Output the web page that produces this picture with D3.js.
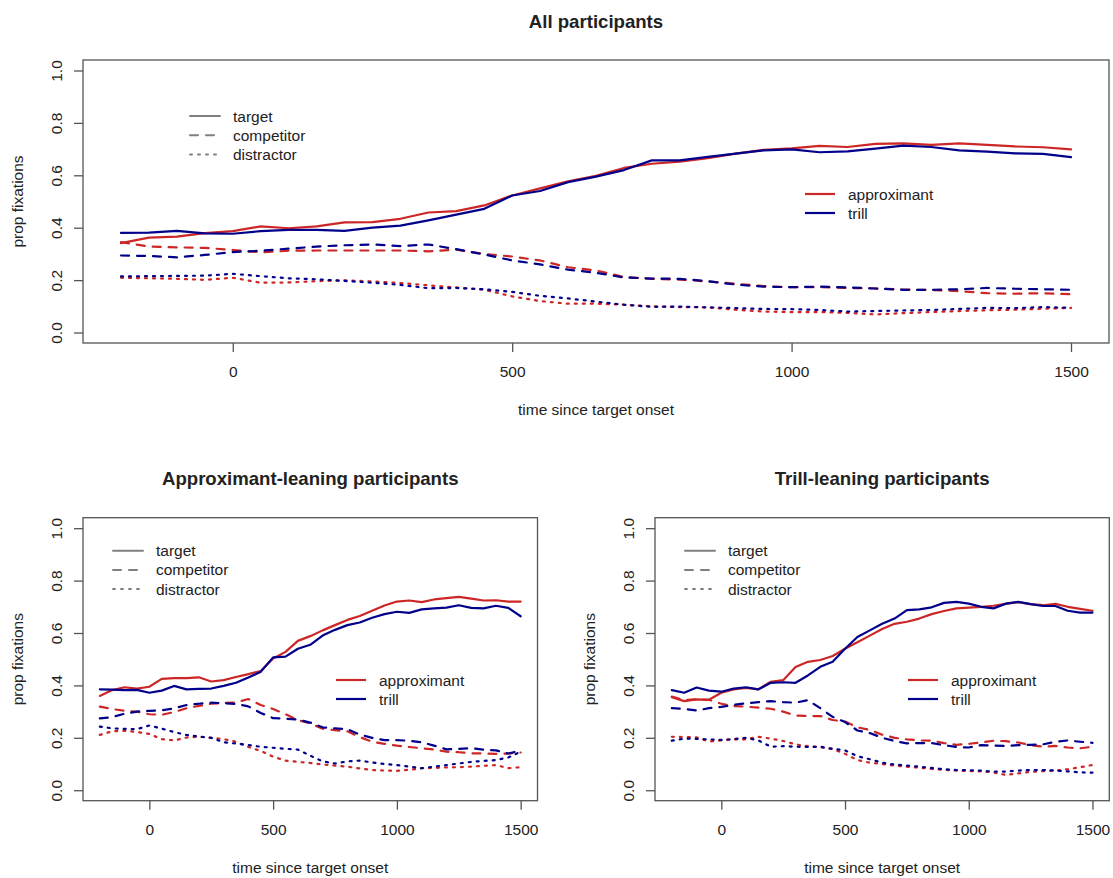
<!DOCTYPE html>
<html>
<head>
<meta charset="utf-8">
<script src="https://d3js.org/d3.v7.min.js"></script>
<style>
  body { margin: 0; background: #fff; }
  text { font-family: "Liberation Sans", Arial, sans-serif; fill: #222; }
</style>
</head>
<body>
<div id="chart"></div>
<script>
// time bins (ms since target onset)
var times = [-200, -150, -100, -50, 0, 50, 100, 150, 200, 250, 300, 350, 400, 450, 500, 550, 600, 650,
  700, 750, 800, 850, 900, 950, 1000, 1050, 1100, 1150, 1200, 1250, 1300, 1350, 1400, 1450, 1500];

var xTicks = [0, 500, 1000, 1500];
var yTicks = [0, 0.2, 0.4, 0.6, 0.8, 1.0];

var roles = ["target", "competitor", "distractor"];
var groups = ["approximant", "trill"];

var titles = ["All participants", "Approximant-leaning participants", "Trill-leaning participants"];

// All participants
var allApproxTarget = [.341,.362,.366,.379,.387,.405,.398,.405,.420,.421,.434,.458,.463,.485,.523,.550,.577,.598,.628,.644,.652,.665,.683,.697,.703,.712,.708,.720,.722,.716,.722,.716,.710,.707,.699];
var allTrillTarget  = [.380,.381,.388,.378,.377,.387,.392,.392,.388,.400,.408,.428,.450,.472,.523,.540,.574,.595,.620,.657,.657,.670,.683,.695,.699,.688,.691,.702,.713,.708,.695,.690,.684,.682,.669];
var allApproxComp   = [.345,.328,.325,.323,.315,.306,.312,.313,.313,.313,.313,.310,.316,.300,.290,.275,.249,.237,.212,.205,.202,.195,.186,.177,.173,.173,.170,.168,.164,.162,.158,.150,.148,.150,.146];
var allTrillComp    = [.294,.292,.287,.296,.307,.312,.320,.328,.333,.336,.330,.336,.318,.298,.275,.260,.240,.228,.210,.206,.205,.196,.183,.175,.173,.175,.172,.168,.163,.163,.165,.170,.167,.165,.163];
var allApproxDist   = [.209,.207,.205,.201,.209,.190,.191,.196,.199,.195,.189,.180,.172,.163,.138,.120,.110,.110,.106,.100,.097,.096,.087,.080,.078,.078,.075,.069,.074,.078,.082,.085,.087,.091,.094];
var allTrillDist    = [.214,.215,.216,.217,.224,.215,.207,.203,.197,.190,.182,.169,.170,.165,.155,.140,.130,.118,.106,.098,.099,.096,.093,.090,.089,.086,.080,.082,.084,.086,.090,.094,.093,.097,.094];

// Approximant-leaning participants
var apxApproxTarget = [.360,.382,.393,.388,.395,.425,.428,.428,.431,.415,.420,.432,.443,.455,.503,.528,.570,.588,.610,.630,.650,.665,.685,.705,.720,.724,.718,.728,.733,.738,.731,.724,.725,.720,.720];
var apxTrillTarget  = [.385,.384,.382,.383,.372,.380,.398,.385,.387,.388,.398,.410,.430,.452,.507,.510,.540,.555,.590,.612,.630,.640,.658,.672,.681,.677,.690,.694,.697,.706,.696,.694,.704,.696,.664];
var apxApproxComp   = [.319,.310,.303,.300,.290,.288,.298,.313,.322,.330,.333,.335,.348,.325,.310,.290,.268,.255,.235,.229,.225,.203,.185,.177,.170,.165,.160,.155,.147,.145,.141,.140,.139,.140,.144];
var apxTrillComp    = [.274,.279,.292,.300,.303,.305,.312,.325,.330,.334,.332,.329,.320,.295,.275,.273,.270,.258,.240,.236,.233,.212,.200,.191,.191,.189,.183,.170,.156,.158,.160,.155,.152,.140,.152];
var apxApproxDist   = [.211,.225,.227,.222,.215,.195,.190,.201,.204,.200,.195,.185,.165,.150,.128,.113,.108,.104,.098,.094,.090,.083,.077,.075,.074,.078,.084,.085,.087,.088,.090,.093,.096,.084,.088];
var apxTrillDist    = [.243,.236,.234,.233,.247,.235,.222,.211,.205,.200,.183,.178,.172,.166,.162,.158,.155,.132,.110,.102,.110,.113,.106,.100,.096,.090,.084,.090,.096,.102,.108,.112,.115,.125,.147];

// Trill-leaning participants
var trlApproxTarget = [.355,.340,.347,.345,.372,.385,.390,.385,.414,.420,.470,.490,.497,.512,.540,.565,.590,.615,.635,.643,.655,.672,.684,.694,.697,.700,.704,.711,.718,.710,.706,.711,.700,.692,.685];
var trlTrillTarget  = [.382,.372,.392,.380,.376,.388,.393,.385,.410,.412,.410,.438,.471,.490,.540,.585,.610,.635,.655,.687,.690,.698,.715,.719,.712,.700,.694,.712,.719,.710,.703,.703,.685,.678,.678];
var trlApproxComp   = [.357,.344,.347,.345,.330,.321,.319,.315,.311,.300,.285,.283,.283,.268,.262,.240,.230,.212,.200,.194,.190,.189,.180,.173,.177,.182,.189,.187,.182,.172,.166,.169,.163,.160,.166];
var trlTrillComp    = [.313,.310,.304,.313,.318,.326,.332,.336,.340,.336,.334,.344,.313,.280,.260,.228,.218,.200,.188,.179,.180,.180,.172,.165,.163,.172,.170,.169,.172,.173,.175,.185,.190,.185,.181];
var trlApproxDist   = [.204,.203,.202,.186,.190,.194,.194,.204,.197,.188,.175,.168,.164,.157,.139,.115,.105,.100,.094,.090,.086,.081,.078,.075,.073,.072,.068,.058,.064,.070,.073,.075,.080,.088,.096];
var trlTrillDist    = [.189,.197,.196,.194,.192,.195,.200,.190,.166,.168,.166,.165,.166,.158,.152,.130,.118,.105,.098,.094,.090,.085,.080,.077,.076,.075,.071,.071,.075,.077,.077,.075,.072,.068,.067];

var colors = { approximant: "#CD2626", trill: "#00008B" };
var dashes = { target: null, competitor: "8,8", distractor: "2,6" };

var svg = d3.select("#chart")
  .append("svg")
  .attr("width", 1113)
  .attr("height", 878);

// panel layout (pixels)
var panels = [
  { title: titles[0], left: 83, right: 1109, top: 60, bottom: 343,
    series: [[allApproxTarget, allTrillTarget], [allApproxComp, allTrillComp], [allApproxDist, allTrillDist]],
    leg1: [190, 116], leg2: [805, 194] },
  { title: titles[1], left: 83, right: 537.5, top: 517.7, bottom: 800.7,
    series: [[apxApproxTarget, apxTrillTarget], [apxApproxComp, apxTrillComp], [apxApproxDist, apxTrillDist]],
    leg1: [113, 550.7], leg2: [336, 680] },
  { title: titles[2], left: 655, right: 1109.3, top: 517.7, bottom: 800.7,
    series: [[trlApproxTarget, trlTrillTarget], [trlApproxComp, trlTrillComp], [trlApproxDist, trlTrillDist]],
    leg1: [685, 550.7], leg2: [908, 680] }
];

panels.forEach(function(p) {
  // R style 4% padding on both axes
  var x = d3.scaleLinear().domain([-268, 1568]).range([p.left, p.right]);
  var y = d3.scaleLinear().domain([-0.04, 1.04]).range([p.bottom, p.top]);

  var g = svg.append("g");

  // lines: distractor first so target sits on top
  [2, 1, 0].forEach(function(r) {
    groups.forEach(function(grp, gi) {
      var vals = p.series[r][gi];
      var line = d3.line()
        .x((d, i) => x(times[i]))
        .y(d => y(d));
      g.append("path")
        .datum(vals)
        .attr("d", line)
        .attr("fill", "none")
        .attr("stroke", colors[grp])
        .attr("stroke-width", 2.2)
        .attr("stroke-linecap", "round")
        .attr("stroke-linejoin", "round")
        .attr("stroke-dasharray", dashes[roles[r]]);
    });
  });

  // box
  g.append("rect")
    .attr("x", p.left).attr("y", p.top)
    .attr("width", p.right - p.left).attr("height", p.bottom - p.top)
    .attr("fill", "none").attr("stroke", "#555").attr("stroke-width", 1.3);

  // x axis
  var xAxis = g.append("g")
    .attr("transform", `translate(0, ${p.bottom})`)
    .call(d3.axisBottom(x).tickValues(xTicks).tickSize(9).tickFormat(d3.format("d")));
  xAxis.select(".domain").remove();
  xAxis.selectAll("line").attr("stroke", "#555").attr("stroke-width", 1.3);
  xAxis.selectAll("text")
    .attr("y", 34).attr("dy", null)
    .style("font-size", "15.5px").attr("fill", "#222");

  // y axis
  var yAxis = g.append("g")
    .attr("transform", `translate(${p.left}, 0)`)
    .call(d3.axisLeft(y).tickValues(yTicks).tickSize(9).tickFormat(d3.format(".1f")));
  yAxis.select(".domain").remove();
  yAxis.selectAll("line").attr("stroke", "#555").attr("stroke-width", 1.3);
  yAxis.selectAll("text")
    .attr("transform", "rotate(-90)")
    .attr("x", 0).attr("y", -21.5).attr("dy", null)
    .attr("text-anchor", "middle")
    .style("font-size", "15.5px").attr("fill", "#222");

  // axis labels
  g.append("text")
    .attr("x", (p.left + p.right) / 2)
    .attr("y", p.bottom + 72)
    .attr("text-anchor", "middle")
    .style("font-size", "15.5px")
    .text("time since target onset");

  g.append("text")
    .attr("transform", `translate(${p.left - 60}, ${(p.top + p.bottom) / 2}) rotate(-90)`)
    .attr("text-anchor", "middle")
    .style("font-size", "15.5px")
    .text("prop fixations");

  // title
  g.append("text")
    .attr("x", (p.left + p.right) / 2)
    .attr("y", p.top - 32.5)
    .attr("text-anchor", "middle")
    .style("font-size", "18.6px")
    .style("font-weight", "bold")
    .attr("fill", "#000")
    .text(p.title);

  // legend: line types
  roles.forEach(function(role, i) {
    var ly = p.leg1[1] + i * 19.2;
    g.append("line")
      .attr("x1", p.leg1[0]).attr("x2", p.leg1[0] + 30)
      .attr("y1", ly).attr("y2", ly)
      .attr("stroke", "#808080").attr("stroke-width", 2)
      .attr("stroke-linecap", "round")
      .attr("stroke-dasharray", dashes[role]);
    g.append("text")
      .attr("x", p.leg1[0] + 43).attr("y", ly + 5.5)
      .style("font-size", "15.5px")
      .text(role);
  });

  // legend: groups
  groups.forEach(function(grp, i) {
    var ly = p.leg2[1] + i * 19;
    g.append("line")
      .attr("x1", p.leg2[0]).attr("x2", p.leg2[0] + 30)
      .attr("y1", ly).attr("y2", ly)
      .attr("stroke", colors[grp]).attr("stroke-width", 2.2);
    g.append("text")
      .attr("x", p.leg2[0] + 43).attr("y", ly + 5.5)
      .style("font-size", "15.5px")
      .text(grp);
  });
});
</script>
</body>
</html>
